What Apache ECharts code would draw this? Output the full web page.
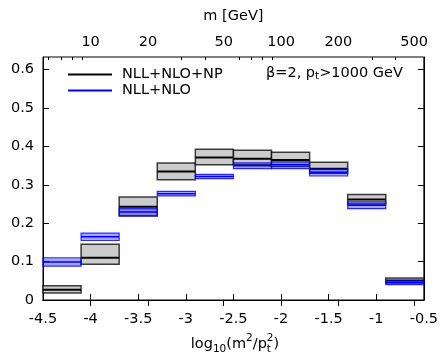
<!DOCTYPE html>
<html><head><meta charset="utf-8">
<script src="https://cdn.jsdelivr.net/npm/echarts@6/dist/echarts.min.js"></script>
<style>html,body{margin:0;padding:0;background:#fff}#c{width:441px;height:354px}</style>
</head><body><div id="c"></div>
<script>
// bins in log10(m^2/pt^2)
const binLow  = [-4.5,-4.1,-3.7,-3.3,-2.9,-2.5,-2.1,-1.7,-1.3,-0.9];
const binHigh = [-4.1,-3.7,-3.3,-2.9,-2.5,-2.1,-1.7,-1.3,-0.9,-0.5];
// NLL+NLO+NP (black, grey band)
const npCentral = [0.027,0.110,0.243,0.335,0.371,0.368,0.365,0.342,0.262,0.051];
const npLow     = [0.018,0.093,0.219,0.313,0.352,0.352,0.348,0.330,0.250,0.045];
const npHigh    = [0.037,0.145,0.268,0.357,0.393,0.390,0.385,0.359,0.275,0.057];
// NLL+NLO (blue band)
const nloCentral = [0.099,0.165,0.229,0.277,0.322,0.350,0.352,0.333,0.247,0.045];
const nloLow     = [0.088,0.155,0.219,0.271,0.316,0.342,0.342,0.323,0.238,0.040];
const nloHigh    = [0.110,0.174,0.238,0.283,0.327,0.357,0.360,0.341,0.256,0.050];
// axes
const xTicks = [-4.5,-4,-3.5,-3,-2.5,-2,-1.5,-1,-0.5];
const yTicks = [0,0.1,0.2,0.3,0.4,0.5,0.6];
const mMajor = [10,20,50,100,200,500];
const mMinor = [6,7,8,9,30,40,60,70,80,90,300,400];
const ptGeV = 1000;

const FONT = 'DejaVu Sans';
const FS = 14.5;
const mToX = m => 2*Math.log10(m/ptGeV);
const xToM = x => Math.round(ptGeV*Math.pow(10, x/2));

function bandSeries(name, lo, c, hi, fill, stroke, bw, lineColor, lw, z) {
  return {
    name, type: 'custom', z,
    itemStyle: {color: lineColor},
    encode: {x: [0,1], y: [2,3,4]},
    data: binLow.map((b,i) => [binLow[i], binHigh[i], lo[i], c[i], hi[i]]),
    renderItem: (params, api) => {
      const p1 = api.coord([api.value(0), api.value(4)]);
      const p2 = api.coord([api.value(1), api.value(2)]);
      const pc = api.coord([api.value(0), api.value(3)]);
      return {type: 'group', children: [
        {type: 'rect', shape: {x: p1[0], y: p1[1], width: p2[0]-p1[0], height: p2[1]-p1[1]},
         style: {fill, stroke, lineWidth: bw}},
        {type: 'line', shape: {x1: p1[0], y1: pc[1], x2: p2[0], y2: pc[1]},
         style: {stroke: lineColor, lineWidth: lw}}
      ]};
    }
  };
}

const chart = echarts.init(document.getElementById('c'), null, {renderer: 'canvas'});
const grid = {left: 43, right: 14.5, top: 57, bottom: 54, show: true, borderColor: '#000', borderWidth: 1};
const txt = {fontFamily: FONT, fontSize: FS, color: '#000'};

// bottom-axis title pieces (log10(m^2/pt^2)) with sub/superscripts
const ctx = document.createElement('canvas').getContext('2d');
function w(s, fs) { ctx.font = fs + 'px "' + FONT + '"'; return ctx.measureText(s).width; }
const SUB = 10.5;
const pieces = [
  {t: 'log', fs: FS, dy: 0},
  {t: '10', fs: SUB, dy: 5},
  {t: '(m', fs: FS, dy: 0},
  {t: '2', fs: SUB, dy: -6},
  {t: '/p', fs: FS, dy: 0},
  {t: 't', fs: SUB, dy: 5, stack: true},
  {t: '2', fs: SUB, dy: -6},
  {t: ')', fs: FS, dy: 0}
];
let total = 0; const xs = [];
pieces.forEach(p => { xs.push(total); if (!p.stack) total += w(p.t, p.fs); });
const cx = 235, by = 344;
const titleEls = pieces.map((p, i) => ({
  type: 'text',
  x: cx - total/2 + xs[i], y: by + p.dy,
  style: {text: p.t, fontFamily: FONT, fontSize: p.fs, fill: '#000', textVerticalAlign: 'middle', textAlign: 'left'}
}));

chart.setOption({
  animation: false,
  grid,
  legend: {
    orient: 'vertical', left: 63, top: 62, itemWidth: 44, itemHeight: 2, itemGap: 1,
    textStyle: Object.assign({}, txt, {lineHeight: 15, padding: [0,0,0,5]}),
    data: [
      {name: 'NLL+NLO+NP', icon: 'rect', itemStyle: {color: '#000'}},
      {name: 'NLL+NLO', icon: 'rect', itemStyle: {color: '#0000ff'}}
    ]
  },
  xAxis: [
    {type: 'value', position: 'bottom', min: -4.5, max: -0.5, interval: 0.5,
     axisLine: {lineStyle: {color: '#000'}}, splitLine: {show: false},
     axisTick: {inside: true, length: 6, lineStyle: {color: '#000'}, customValues: xTicks},
     axisLabel: Object.assign({}, txt, {margin: 12, customValues: xTicks,
       formatter: v => String(Math.round(v*10)/10)})},
    {type: 'value', position: 'top', min: -4.5, max: -0.5,
     name: 'm [GeV]', nameLocation: 'middle', nameGap: 33, nameTextStyle: txt,
     axisLine: {lineStyle: {color: '#000'}}, splitLine: {show: false},
     axisTick: {inside: true, length: 6, lineStyle: {color: '#000'}, customValues: mMajor.map(mToX)},
     axisLabel: Object.assign({}, txt, {margin: 7, customValues: mMajor.map(mToX), formatter: v => String(xToM(v))})},
    {type: 'value', position: 'top', min: -4.5, max: -0.5,
     axisLine: {show: false}, splitLine: {show: false},
     axisTick: {inside: true, length: 3, lineStyle: {color: '#000'}, customValues: mMinor.map(mToX)},
     axisLabel: {show: false}}
  ],
  yAxis: [
    {type: 'value', position: 'left', min: 0, max: 0.633,
     axisLine: {show: true, lineStyle: {color: '#000'}}, splitLine: {show: false},
     axisTick: {inside: true, length: 6, lineStyle: {color: '#000'}, customValues: yTicks},
     axisLabel: Object.assign({}, txt, {margin: 9, customValues: yTicks,
       formatter: v => v === 0 ? '0' : v.toFixed(1)})},
    {type: 'value', position: 'right', min: 0, max: 0.633,
     axisLine: {show: true, lineStyle: {color: '#000'}}, splitLine: {show: false},
     axisTick: {inside: true, length: 6, lineStyle: {color: '#000'}, customValues: yTicks},
     axisLabel: {show: false}}
  ],
  graphic: [
    {type: 'text', x: 266, y: 73,
     style: {text: '{a|β=2, p}{s|t}{a|>1000 GeV}', textVerticalAlign: 'middle',
       rich: {a: {fontFamily: FONT, fontSize: FS, fill: '#000', lineHeight: 18, verticalAlign: 'middle'},
              s: {fontFamily: FONT, fontSize: SUB, fill: '#000', lineHeight: 18, verticalAlign: 'bottom'}}}}
  ].concat(titleEls),
  series: [
    bandSeries('NLL+NLO+NP', npLow, npCentral, npHigh, '#cccccc', 'rgba(0,0,0,0.75)', 1.5, '#000', 2, 2),
    bandSeries('NLL+NLO', nloLow, nloCentral, nloHigh, 'rgba(0,0,255,0.35)', 'rgba(0,0,255,0.8)', 1.2, '#0000ff', 1.5, 3)
  ]
});
</script></body></html>
